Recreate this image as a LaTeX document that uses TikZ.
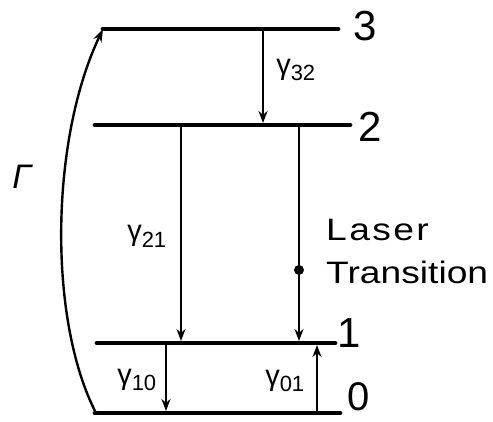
\documentclass[tikz,border=0pt]{standalone}
\usepackage{fontspec}
\setmainfont{Liberation Sans}
\usetikzlibrary{arrows.meta}
\begin{document}
\begin{tikzpicture}[x=1pt,y=-1pt,
  level/.style={line width=4.8pt,line cap=round},
  trans/.style={line width=1.8pt,-{Stealth[length=12pt,width=9pt]}},
  num/.style={font=\fontsize{42}{42}\selectfont,inner sep=0pt},
  rate/.style={font=\fontsize{29}{29}\selectfont,inner sep=0pt},
  txt/.style={font=\fontsize{31}{31}\selectfont,inner sep=0pt,anchor=west}]
\useasboundingbox (0,0) rectangle (493,422);
% level end points
\coordinate (l3a) at (103,29);  \coordinate (l3b) at (338,29);
\coordinate (l2a) at (95,125);  \coordinate (l2b) at (350,125);
\coordinate (l1a) at (97,343);  \coordinate (l1b) at (335,343);
\coordinate (l0a) at (95,413);  \coordinate (l0b) at (340,413);
\draw[level] (l3a) -- (l3b);
\draw[level] (l2a) -- (l2b);
\draw[level] (l1a) -- (l1b);
\draw[level] (l0a) -- (l0b);
% level labels
\node[num] (n3) at (365,26) {3};
\node[num] (n2) at (370,127) {2};
\node[num] (n1) at (349,333) {1};
\node[num,font=\fontsize{40}{40}\selectfont] (n0) at (359,397) {0};
% transition end points
\coordinate (g32s) at (263,29);  \coordinate (g32e) at (263,123);
\coordinate (g21s) at (181,125); \coordinate (g21e) at (181,341);
\coordinate (lts)  at (299,125); \coordinate (lte)  at (299,341);
\coordinate (g10s) at (166,343); \coordinate (g10e) at (166,411);
\coordinate (g01s) at (317,413); \coordinate (g01e) at (317,345);
\draw[trans] (g32s) -- (g32e);
\draw[trans] (g21s) -- (g21e);
\draw[trans] (lts) -- (lte);
\draw[trans] (g10s) -- (g10e);
\draw[trans] (g01s) -- (g01e);
\fill (299,270) circle (5pt);
% pump
\coordinate (ps) at (96,413);
\draw[line width=2.4pt,-{Stealth[length=13pt,width=9pt]}] (ps) .. controls (48,320) and (50,140) .. (l3a);
% labels
\node[rate] (r32) at (296,70) {γ\textsubscript{\fontsize{22}{22}\selectfont 32}};
\node[rate] (r21) at (147,236) {γ\textsubscript{\fontsize{22}{22}\selectfont 21}};
\node[rate] (r10) at (137,380) {γ\textsubscript{\fontsize{22}{22}\selectfont 10}};
\node[rate] (r01) at (285,381) {γ\textsubscript{\fontsize{22}{22}\selectfont 01}};
\node[txt] (las) at (326,230) {\scalebox{1.2}[1]{L\kern2pt a\kern2pt s\kern2pt e\kern2pt r}};
\node[txt] (tra) at (326,272) {\scalebox{1.2}[1]{Transition}};
\node[font=\fontsize{34}{34}\selectfont\itshape,inner sep=0pt] (G) at (22,177) {Γ};
\end{tikzpicture}
\end{document}
